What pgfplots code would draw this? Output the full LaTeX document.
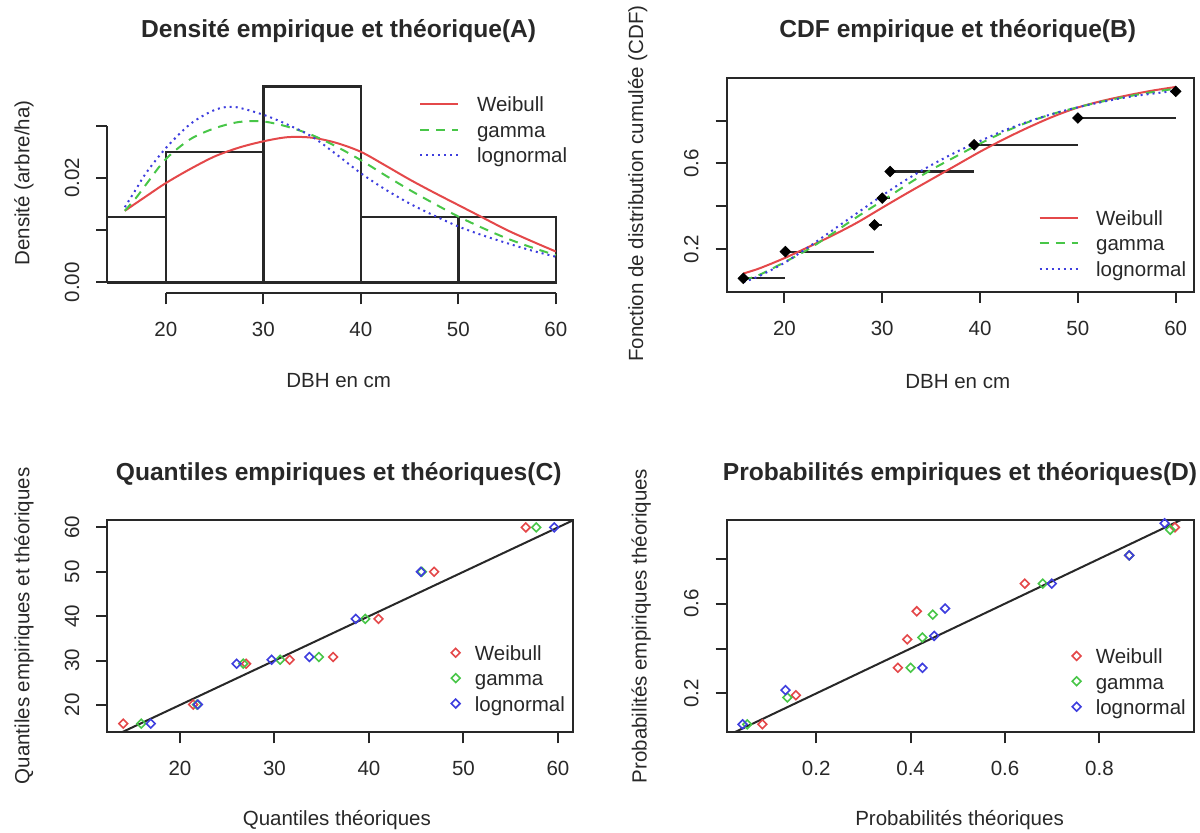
\documentclass[border=0pt]{standalone}
\usepackage{fontspec}
\setmainfont{Liberation Sans}
\usepackage{pgfplots}
\pgfplotsset{compat=1.18}

\definecolor{rred}{RGB}{228,72,74}
\definecolor{rgreen}{RGB}{72,198,72}
\definecolor{rblue}{RGB}{62,62,222}
\definecolor{ink}{RGB}{40,40,40}

\pgfplotsset{
  rbase/.style={
    scale only axis, anchor=south west,
    font=\fontsize{10.25}{12.3}\selectfont,
    /pgf/number format/assume math mode=true,
    scaled ticks=false,
    tick align=outside, major tick length=5.5pt,
    tick style={ink, line width=1pt},
    tick pos=left,
    xticklabel shift=5.5pt, yticklabel shift=5pt,
    axis line style={ink, line width=1.1pt},
    every tick label/.append style={text=ink},
    every axis title shift=0pt,
    title style={font=\fontsize{12.3}{14.8}\selectfont\bfseries, anchor=base, text=ink},
    xlabel style={anchor=base, text=ink},
    ylabel style={anchor=base, text=ink},
    yticklabel style={rotate=90, anchor=south},
    legend cell align=left,
    legend style={draw=none, fill=none, anchor=north west, inner sep=0pt,
      row sep=3pt, text=ink,
      nodes={inner sep=0pt, text height=7.5pt, text depth=2.2pt},
      /tikz/every odd column/.append style={column sep=8.8pt}},
  },
  rline/.style={legend image code/.code={\draw[##1] (0pt,1.2pt) -- (19pt,1.2pt);}},
  rmarkleg/.style={legend image code/.code={\draw[##1] plot coordinates {(0pt,1.2pt)};},
     legend style={/tikz/every odd column/.append style={column sep=7.4pt}}},
  rmk/.style={only marks, mark=square, mark size=1.55pt, color=#1,
     mark options={rotate=45, line width=0.8pt, draw=#1, fill=none}},
}

\begin{document}
\begin{tikzpicture}
\path[use as bounding box] (0,0) rectangle (600pt,416.5pt);

% ---------------- (A) density ----------------
\begin{axis}[rbase, rline, at={(53.65pt,269.85pt)}, width=233.03pt, height=107.3pt,
  xmin=14, xmax=61.8, ymin=-0.0021, ymax=0.039,
  axis x line*=bottom, axis y line*=left, axis line style={draw=none},
  clip=false,
  xtick={20,30,40,50,60}, xticklabels={20,30,40,50,60},
  ytick={0,0.01,0.02,0.03}, yticklabels={0.00,,0.02,},
  title={Densité empirique et théorique(A)},
  title style={at={(axis description cs:0.4965,1.193)}},
  xlabel={DBH en cm}, xlabel style={at={(axis description cs:0.4965,-0.441)}},
  ylabel={Densité (arbre/ha)}, ylabel style={at={(axis description cs:-0.167,0.514)}},
  legend style={at={(axis description cs:0.669,0.917)}},
]
\addplot[ink, line width=1.2pt, forget plot] coordinates {(14,0)(14,0.03)};
\addplot[ink, line width=1.1pt, forget plot] coordinates {(20,-0.0021)(60,-0.0021)};
\addplot[ink, line width=1.2pt, forget plot] coordinates {(14,0)(14,0.0125)(20,0.0125)(20,0)(14,0)};
\addplot[ink, line width=1.2pt, forget plot] coordinates {(20,0)(20,0.025)(30,0.025)(30,0)(20,0)};
\addplot[ink, line width=1.2pt, forget plot] coordinates {(30,0)(30,0.0375)(40,0.0375)(40,0)(30,0)};
\addplot[ink, line width=1.2pt, forget plot] coordinates {(40,0)(40,0.0125)(50,0.0125)(50,0)(40,0)};
\addplot[ink, line width=1.2pt, forget plot] coordinates {(50,0)(50,0.0125)(60,0.0125)(60,0)(50,0)};

\addplot[rred, line width=1pt, smooth] coordinates {(15.8,0.0137)(18,0.0165)(20,0.0190)(22.5,0.0217)(25,0.0241)(27.5,0.0258)(30,0.0270)(32.5,0.0278)(35,0.0277)(37.5,0.0267)(40,0.0250)(42.5,0.0224)(45,0.0197)(47.5,0.0172)(50,0.0148)(52.5,0.0124)(55,0.0100)(57.5,0.0079)(60,0.0059)};
\addlegendentry{Weibull}
\addplot[rgreen, line width=1pt, smooth, dash pattern=on 4.5pt off 3.5pt] coordinates {(15.8,0.0137)(17,0.0163)(18,0.0188)(20,0.0236)(22.5,0.0274)(25,0.0295)(27.5,0.0307)(30,0.0308)(32.5,0.0298)(35,0.0282)(37.5,0.0260)(40,0.0234)(42.5,0.0205)(45,0.0177)(47.5,0.0151)(50,0.0126)(52.5,0.0104)(55,0.0084)(57.5,0.0067)(60,0.0052)};
\addlegendentry{gamma}
\addplot[rblue, line width=1pt, smooth, dash pattern=on 1pt off 2pt] coordinates {(15.8,0.0144)(17,0.0180)(18,0.0210)(20,0.0257)(22.5,0.0303)(25,0.0330)(27,0.0336)(30,0.0321)(32.5,0.0302)(35,0.0279)(37.5,0.0245)(40,0.0209)(42.5,0.0178)(45,0.0151)(47.5,0.0128)(50,0.0107)(52.5,0.0090)(55,0.0075)(57.5,0.0061)(60,0.0049)};
\addlegendentry{lognormal}
\end{axis}

% ---------------- (B) CDF ----------------
\begin{axis}[rbase, rline, at={(363.35pt,270.65pt)}, width=233.8pt, height=106.85pt,
  xmin=14.1, xmax=61.9, ymin=0, ymax=1,
  xtick={20,30,40,50,60}, xticklabels={20,30,40,50,60},
  ytick={0.2,0.4,0.6,0.8}, yticklabels={0.2,,0.6,},
  title={CDF empirique et théorique(B)},
  title style={at={(axis description cs:0.4942,1.190)}},
  xlabel={DBH en cm}, xlabel style={at={(axis description cs:0.4942,-0.451)}},
  ylabel={Fonction de distribution cumulée (CDF)}, ylabel style={at={(axis description cs:-0.179,0.506)}},
  legend style={at={(axis description cs:0.666,0.382)}},
]
\addplot[ink, line width=1.1pt, forget plot] coordinates {(15.8,0.0625)(20.1,0.0625)};
\addplot[ink, line width=1.1pt, forget plot] coordinates {(20.1,0.1875)(29.2,0.1875)};
\addplot[ink, line width=1.1pt, forget plot] coordinates {(29.2,0.3125)(30.0,0.3125)};
\addplot[ink, line width=1.1pt, forget plot] coordinates {(30.0,0.4375)(30.8,0.4375)};
\addplot[ink, line width=1.1pt, forget plot] coordinates {(30.8,0.5625)(39.4,0.5625)};
\addplot[ink, line width=1.1pt, forget plot] coordinates {(39.4,0.6875)(50.0,0.6875)};
\addplot[ink, line width=1.1pt, forget plot] coordinates {(50.0,0.8125)(60.0,0.8125)};
\addplot[only marks, mark=square*, mark size=1.85pt, mark options={rotate=45, draw=black, fill=black}, forget plot]
  coordinates {(15.8,0.0625)(20.1,0.1875)(29.2,0.3125)(30.0,0.4375)(30.8,0.5625)(39.4,0.6875)(50.0,0.8125)(60.0,0.9375)};

\addplot[rred, line width=1pt, smooth] coordinates {(15.8,0.085)(17.5,0.11)(20,0.157)(22.5,0.21)(25,0.265)(27.5,0.325)(30,0.393)(32.5,0.46)(35,0.525)(37.5,0.59)(40,0.655)(42.5,0.715)(45,0.77)(47.5,0.82)(50,0.862)(52.5,0.893)(55,0.918)(57.5,0.94)(60,0.958)};
\addlegendentry{Weibull}
\addplot[rgreen, line width=1pt, smooth, dash pattern=on 4.5pt off 3.5pt] coordinates {(15.8,0.054)(17.5,0.08)(20,0.138)(22.5,0.20)(25,0.275)(27.5,0.352)(30,0.425)(32.5,0.50)(35,0.57)(37.5,0.632)(40,0.693)(42.5,0.748)(45,0.795)(47.5,0.833)(50,0.863)(52.5,0.89)(55,0.913)(57.5,0.933)(60,0.95)};
\addlegendentry{gamma}
\addplot[rblue, line width=1pt, smooth, dash pattern=on 1pt off 2pt] coordinates {(15.8,0.044)(17.5,0.075)(20,0.135)(22.5,0.21)(25,0.29)(27.5,0.37)(30,0.45)(32.5,0.525)(35,0.592)(37.5,0.652)(40,0.705)(42.5,0.755)(45,0.797)(47.5,0.833)(50,0.863)(52.5,0.888)(55,0.91)(57.5,0.926)(60,0.94)};
\addlegendentry{lognormal}
\end{axis}

% ---------------- (C) Q-Q ----------------
\begin{axis}[rbase, rmarkleg, at={(53.65pt,50.35pt)}, width=232.8pt, height=106.15pt,
  xmin=12.31, xmax=61.58, ymin=13.85, ymax=61.67,
  xtick={20,30,40,50,60}, xticklabels={20,30,40,50,60},
  ytick={20,30,40,50,60}, yticklabels={20,30,40,50,60},
  title={Quantiles empiriques et théoriques(C)},
  title style={at={(axis description cs:0.497,1.184)}},
  xlabel={Quantiles théoriques}, xlabel style={at={(axis description cs:0.493,-0.437)}},
  ylabel={Quantiles empiriques et théoriques}, ylabel style={at={(axis description cs:-0.1675,0.501)}},
  legend style={at={(axis description cs:0.738,0.411)}},
]
\addplot[ink, line width=1pt, forget plot] coordinates {(10,10)(65,65)};
\addplot[rmk=rred] coordinates {(14.0,15.8)(21.4,20.1)(27.0,29.3)(31.6,30.2)(36.2,30.8)(41.0,39.4)(46.9,50.0)(56.6,60.0)};
\addlegendentry{Weibull}
\addplot[rmk=rgreen] coordinates {(15.9,15.8)(21.8,20.1)(26.7,29.3)(30.6,30.2)(34.7,30.8)(39.6,39.4)(45.6,50.0)(57.7,60.0)};
\addlegendentry{gamma}
\addplot[rmk=rblue] coordinates {(16.9,15.8)(21.9,20.1)(26.0,29.3)(29.7,30.2)(33.7,30.8)(38.6,39.4)(45.5,50.0)(59.6,60.0)};
\addlegendentry{lognormal}
\end{axis}

% ---------------- (D) P-P ----------------
\begin{axis}[rbase, rmarkleg, at={(363.35pt,50.35pt)}, width=233.8pt, height=106.15pt,
  xmin=0.0104, xmax=1.001, ymin=0.027, ymax=0.9725,
  xtick={0.2,0.4,0.6,0.8}, xticklabels={0.2,0.4,0.6,0.8},
  ytick={0.2,0.4,0.6,0.8}, yticklabels={0.2,,0.6,},
  title={Probabilités empiriques et théoriques(D)},
  title style={at={(axis description cs:0.499,1.184)}},
  xlabel={Probabilités théoriques}, xlabel style={at={(axis description cs:0.498,-0.437)}},
  ylabel={Probabilités empiriques théoriques}, ylabel style={at={(axis description cs:-0.171,0.501)}},
  legend style={at={(axis description cs:0.738,0.396)}},
]
\addplot[ink, line width=1pt, forget plot] coordinates {(0,0)(1,1)};
\addplot[rmk=rred] coordinates {(0.086,0.0625)(0.157,0.192)(0.373,0.314)(0.393,0.441)(0.413,0.566)(0.642,0.689)(0.863,0.815)(0.960,0.940)};
\addlegendentry{Weibull}
\addplot[rmk=rgreen] coordinates {(0.054,0.0625)(0.139,0.182)(0.400,0.314)(0.425,0.449)(0.447,0.551)(0.680,0.689)(0.863,0.815)(0.950,0.929)};
\addlegendentry{gamma}
\addplot[rmk=rblue] coordinates {(0.044,0.0625)(0.135,0.215)(0.425,0.314)(0.450,0.456)(0.473,0.578)(0.699,0.689)(0.863,0.815)(0.938,0.958)};
\addlegendentry{lognormal}
\end{axis}
\end{tikzpicture}
\end{document}
